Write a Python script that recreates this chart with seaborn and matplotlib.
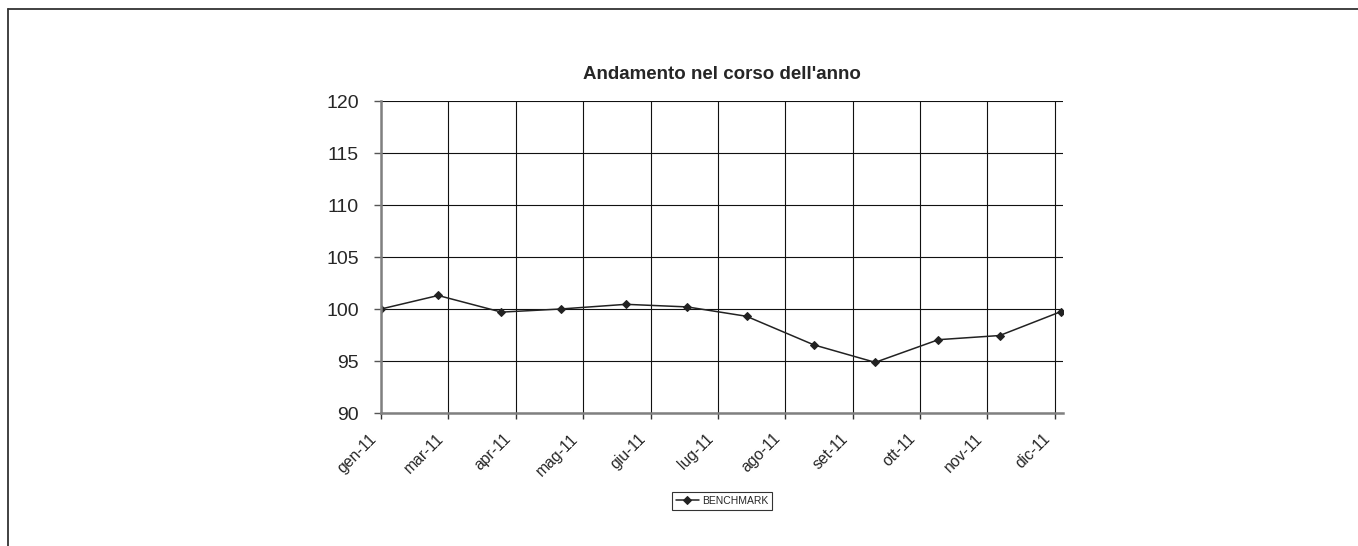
import matplotlib
matplotlib.use("Agg")
import matplotlib.pyplot as plt
import matplotlib.transforms as mtransforms
from matplotlib.lines import Line2D
import seaborn as sns
import pandas as pd

# ---- data ----
dates = ["2011-01-31", "2011-02-28", "2011-03-31", "2011-04-29", "2011-05-31", "2011-06-30",
         "2011-07-29", "2011-08-31", "2011-09-30", "2011-10-31", "2011-11-30", "2011-12-30"]
benchmark = [100.0, 101.3, 99.7, 100.0, 100.45, 100.2, 99.3, 96.55, 94.87, 97.05, 97.45, 99.75]
tick_dates = ["2011-01-31", "2011-03-05", "2011-04-07", "2011-05-10", "2011-06-12", "2011-07-15",
              "2011-08-17", "2011-09-19", "2011-10-22", "2011-11-24", "2011-12-27"]
tick_labels = ["gen-11", "mar-11", "apr-11", "mag-11", "giu-11", "lug-11",
               "ago-11", "set-11", "ott-11", "nov-11", "dic-11"]
y_ticks = [90, 95, 100, 105, 110, 115, 120]
series_name = "BENCHMARK"
title = "Andamento nel corso dell'anno"

df = pd.DataFrame({"date": pd.to_datetime(dates), "value": benchmark, "series": series_name})

sns.set_style("white")
plt.rcParams["font.family"] = ["Liberation Sans", "DejaVu Sans"]

fig = plt.figure(figsize=(13.58, 5.46), dpi=100)
ax = fig.add_axes([381 / 1358, 1 - 413 / 546, (1063 - 381) / 1358, (413 - 101) / 546])

sns.lineplot(data=df, x="date", y="value", hue="series", palette=["#222222"],
             marker="D", markersize=4.5, linewidth=1.1, markeredgecolor="#222222",
             ax=ax, legend=True)

ax.set_xlim(pd.Timestamp("2011-01-31"), pd.Timestamp("2011-12-31"))
ax.set_ylim(90, 120)
ax.set_yticks(y_ticks)
ax.set_xticks(pd.to_datetime(tick_dates))
ax.set_xticklabels(tick_labels, rotation=45, ha="right", va="center", rotation_mode="anchor",
                   fontsize=11.3)
ax.tick_params(axis="y", labelsize=14, pad=11, length=5, width=1, color="#555555", direction="out", left=True)
ax.tick_params(axis="x", pad=12, length=4, width=1, color="#333333", direction="out", bottom=True)
shift = mtransforms.ScaledTranslation(-7 / 100, -1 / 100, fig.dpi_scale_trans)
for lbl in ax.get_xticklabels():
    lbl.set_transform(lbl.get_transform() + shift)
ax.set_xlabel("")
ax.set_ylabel("")

ax.grid(True, color="#111111", linewidth=0.8)
ax.set_axisbelow(True)
for s in ["top", "right"]:
    ax.spines[s].set_visible(False)
for s in ["left", "bottom"]:
    ax.spines[s].set_color("#808080")
    ax.spines[s].set_linewidth(1.8)

ax.set_title(title, fontsize=13.5, fontweight="bold", pad=16)

handles, labels = ax.get_legend_handles_labels()
ax.legend_.remove()
leg = fig.legend(handles, labels, loc="center", bbox_to_anchor=(722 / 1358, 1 - 501 / 546),
                 fontsize=7.5, frameon=True, fancybox=False, edgecolor="black",
                 handlelength=2.2, handletextpad=0.3, borderpad=0.35, borderaxespad=0)
leg.get_frame().set_linewidth(0.8)

# outer chart border (top and left visible)
fig.add_artist(Line2D([8 / 1358, 1.0], [1 - 9 / 546, 1 - 9 / 546], transform=fig.transFigure,
                      color="#333333", linewidth=1.3))
fig.add_artist(Line2D([8 / 1358, 8 / 1358], [1 - 9 / 546, 0.0], transform=fig.transFigure,
                      color="#333333", linewidth=1.3))

fig.savefig("out.png", dpi=100)
